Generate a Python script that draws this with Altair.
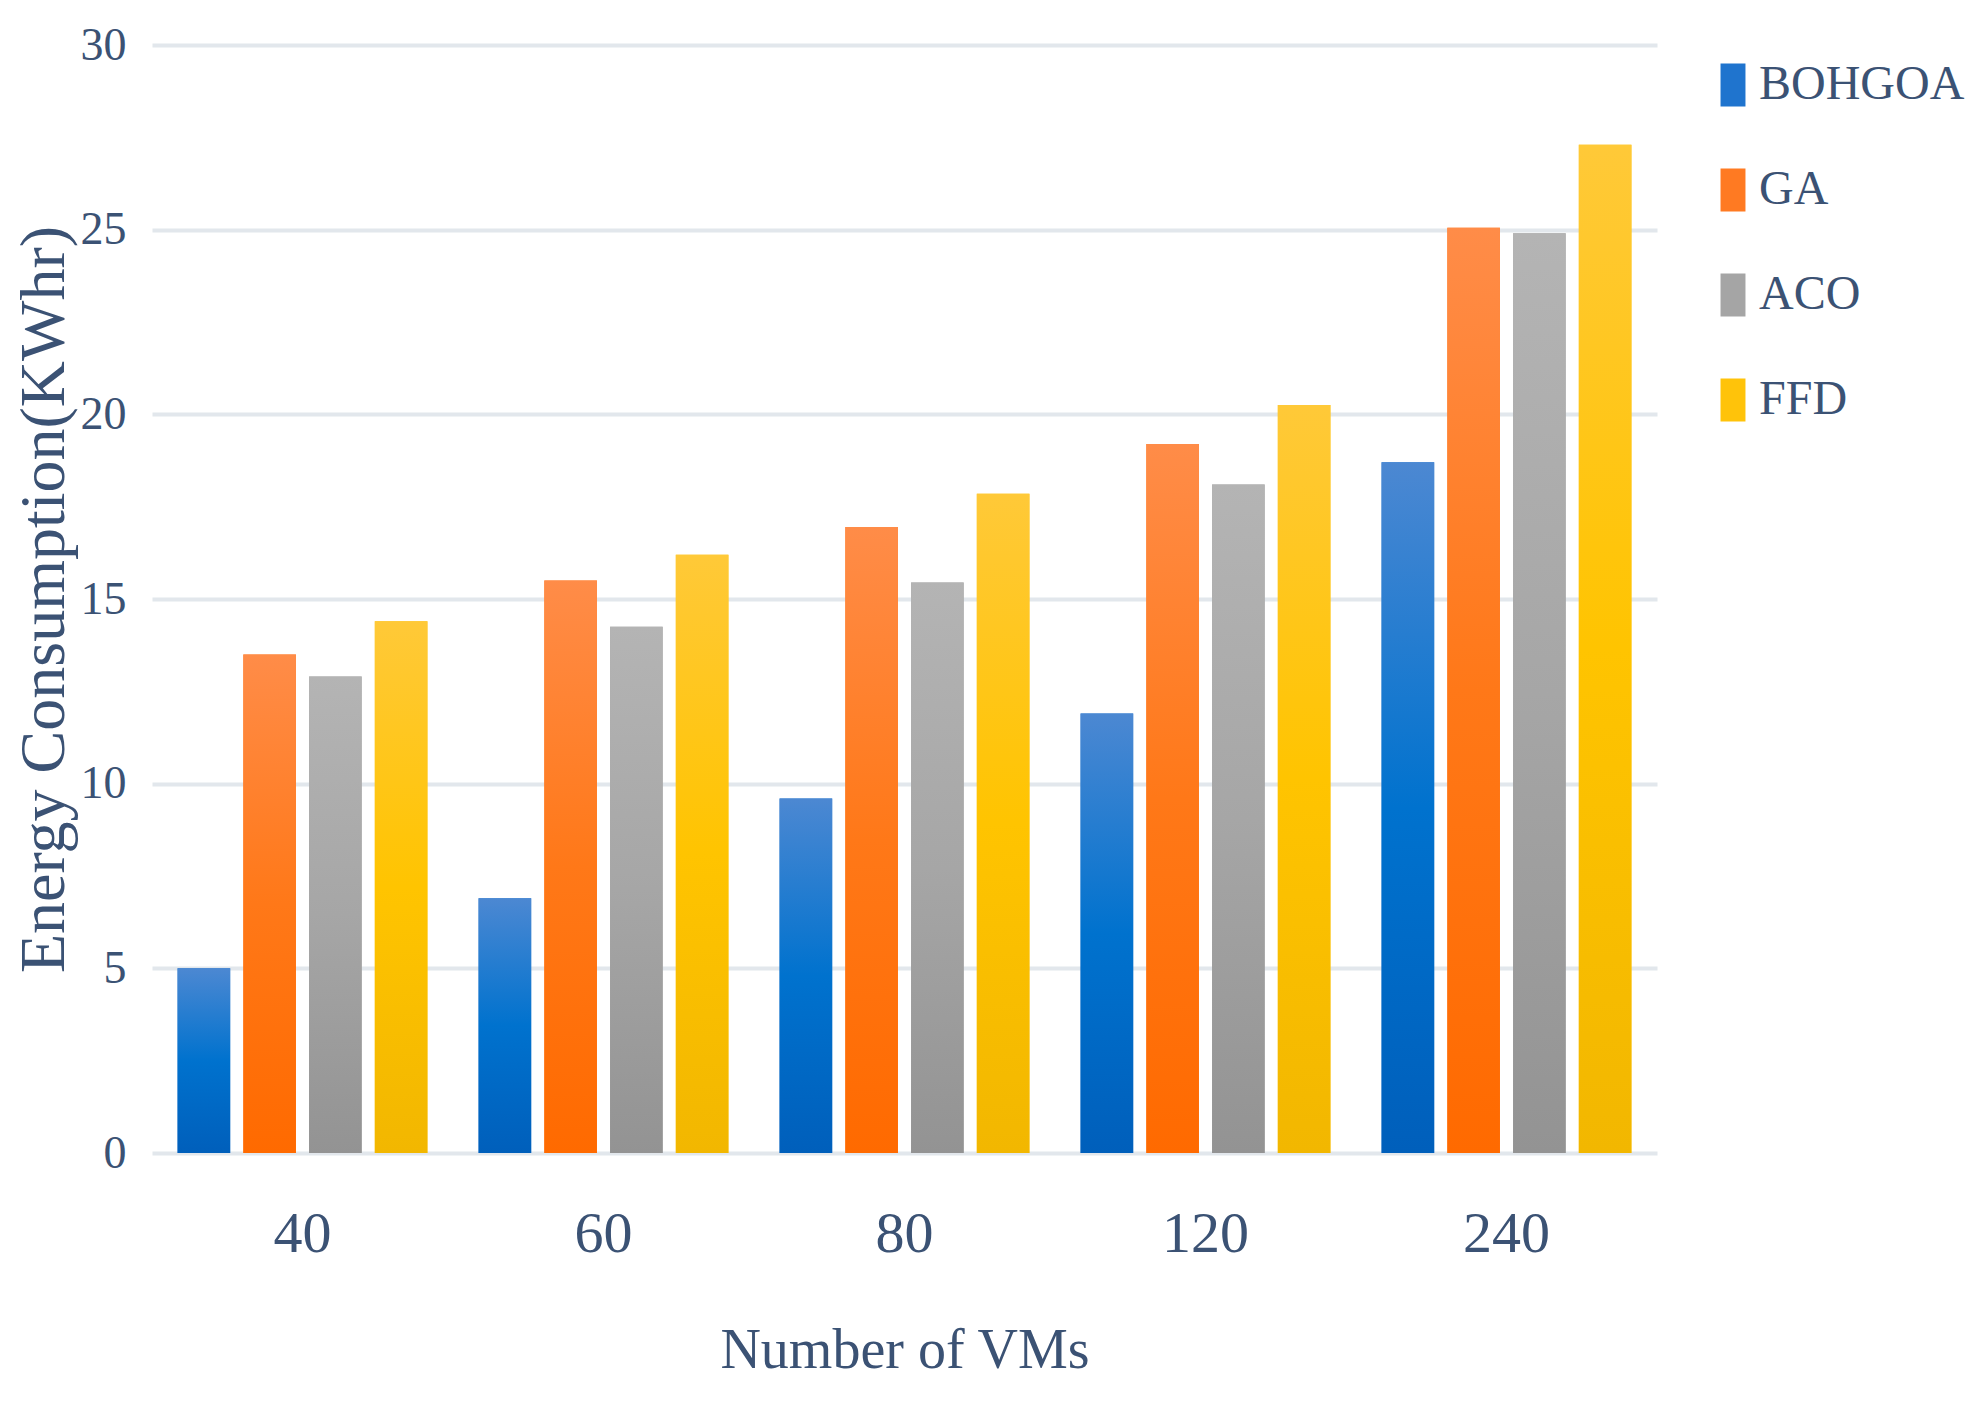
import altair as alt
import pandas as pd

vms = ["40", "60", "80", "120", "240"]
series = ["BOHGOA", "GA", "ACO", "FFD"]
bohgoa = [5.0, 6.9, 9.6, 11.9, 18.7]
ga = [13.5, 15.5, 16.95, 19.2, 25.05]
aco = [12.9, 14.25, 15.45, 18.1, 24.9]
ffd = [14.4, 16.2, 17.85, 20.25, 27.3]

mid_colors = ["#1F74CE", "#FF7A22", "#A5A5A5", "#FFC30A"]
stops = [
    ["#4C88D2", "#0072CE", "#005FBB"],
    ["#FF8C48", "#FF7818", "#FF6A00"],
    ["#B4B4B4", "#A6A6A6", "#939393"],
    ["#FFC938", "#FFC400", "#F2B700"],
]

rows = []
for s, vals in zip(series, [bohgoa, ga, aco, ffd]):
    for v, val in zip(vms, vals):
        rows.append({"vms": v, "series": s, "value": val})
df = pd.DataFrame(rows)

FONT = "Liberation Serif"
TXT = "#3B5274"

x = alt.X(
    "vms:N",
    sort=vms,
    scale=alt.Scale(paddingInner=0.17, paddingOuter=0.085),
    axis=alt.Axis(
        title="Number of VMs",
        labelAngle=0,
        labelFont=FONT,
        labelFontSize=58,
        labelColor=TXT,
        labelPadding=52,
        titleFont=FONT,
        titleFontSize=56,
        titleFontWeight="normal",
        titleColor=TXT,
        titlePadding=60,
        ticks=False,
        domain=False,
        grid=False,
    ),
)
xo = alt.XOffset("series:N", sort=series, scale=alt.Scale(domain=series, paddingInner=0.2))
y = alt.Y(
    "value:Q",
    scale=alt.Scale(domain=[0, 30], nice=False),
    axis=alt.Axis(
        title="Energy Consumption(KWhr)",
        values=[0, 5, 10, 15, 20, 25, 30],
        labelFont=FONT,
        labelFontSize=46,
        labelColor=TXT,
        labelPadding=26,
        titleFont=FONT,
        titleFontSize=64,
        titleFontWeight="normal",
        titleColor=TXT,
        titlePadding=4,
        ticks=False,
        domain=False,
        grid=True,
        gridColor="#E2E7EC",
        gridWidth=4,
    ),
)

base = alt.Chart(df).mark_bar().encode(
    x=x,
    xOffset=xo,
    y=y,
    color=alt.Color(
        "series:N",
        sort=series,
        scale=alt.Scale(domain=series, range=mid_colors),
        legend=alt.Legend(
            title=None,
            orient="none",
            legendX=1557,
            legendY=16,
            symbolType="M-0.58,-1H0.58V1H-0.58Z",
            symbolSize=1849,
            symbolStrokeWidth=0,
            labelFont=FONT,
            labelFontSize=48,
            labelColor=TXT,
            labelOffset=2,
            labelLimit=0,
            rowPadding=57,
            padding=0,
        ),
    ),
)

layers = [base]
for s, st in zip(series, stops):
    grad = {
        "gradient": "linear",
        "x1": 0, "y1": 0, "x2": 0, "y2": 1,
        "stops": [
            {"offset": 0, "color": st[0]},
            {"offset": 0.5, "color": st[1]},
            {"offset": 1, "color": st[2]},
        ],
    }
    layers.append(
        alt.Chart(df)
        .transform_filter(alt.datum.series == s)
        .mark_bar(color=grad)
        .encode(x=x, xOffset=xo, y=y)
    )

chart = (
    alt.layer(*layers)
    .properties(width=1505, height=1108, padding={"left": 4, "top": 14, "right": 0, "bottom": 0})
    .configure_view(stroke=None)
)

chart.save("out.html", embed_options={"renderer": "svg", "actions": False})
